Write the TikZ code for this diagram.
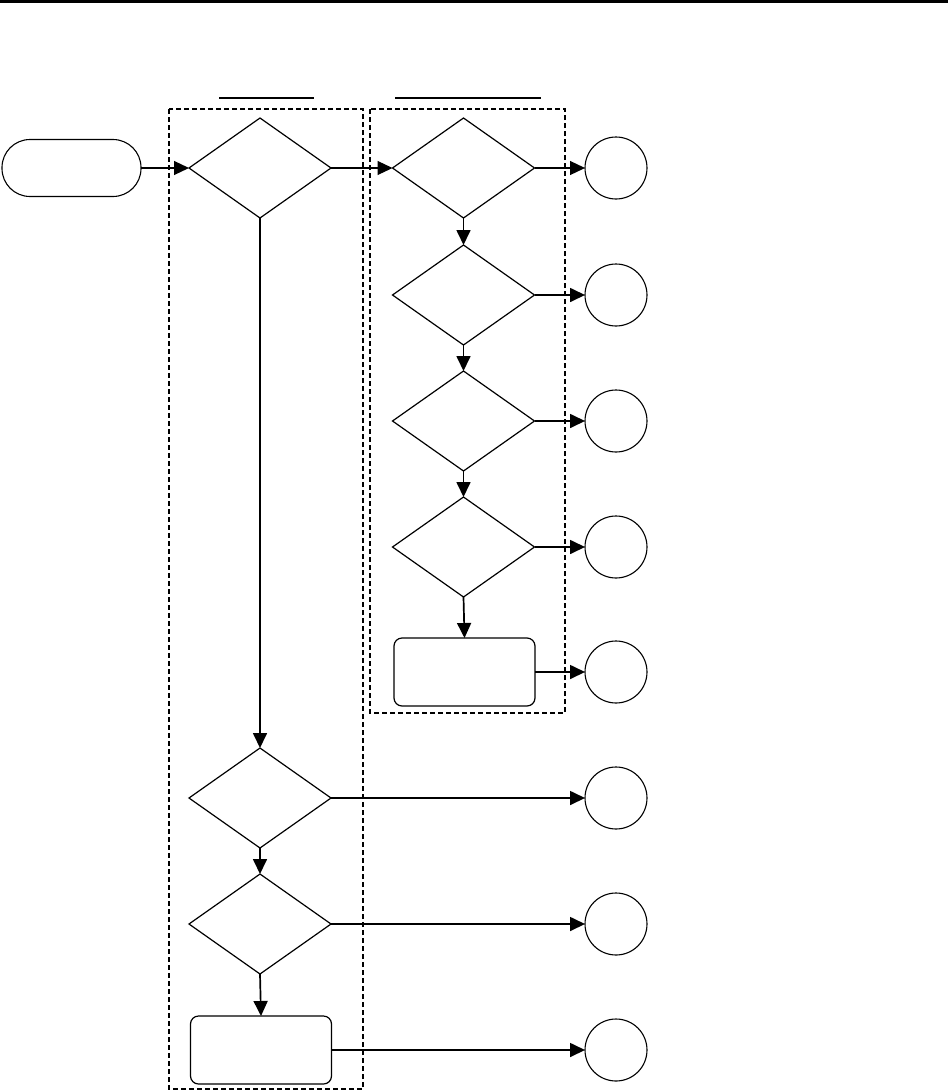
\documentclass[tikz,border=0pt]{standalone}
\usetikzlibrary{shapes.geometric,arrows.meta}
\begin{document}
\begin{tikzpicture}[x=1pt,y=-1pt,
  every node/.style={inner sep=0pt,outer sep=0pt},
  dec/.style={draw,line width=1.2pt,shape=diamond,minimum width=142pt,minimum height=100pt},
  term/.style={draw,line width=1.1pt,rectangle,rounded corners=28pt,minimum width=139pt,minimum height=57pt},
  proc/.style={draw,line width=1.2pt,rectangle,rounded corners=8pt,minimum width=141pt,minimum height=68pt},
  endc/.style={draw,line width=1.1pt,circle,minimum size=62pt},
  flow/.style={line width=1.2pt,-{Triangle[length=15pt,width=14pt]}},
  flowb/.style={line width=1.7pt,-{Triangle[length=15pt,width=14pt]}},
  thinbox/.style={draw,line width=1.2pt,dash pattern=on 5pt off 3pt},
  thickbox/.style={draw,line width=2pt,dash pattern=on 5pt off 3pt},
  hdr/.style={line width=1.2pt}]
\useasboundingbox (0,0) rectangle (948,1092);
% top rule
\draw[line width=2.6pt] (0,1.3) -- (948,1.3);
% header underlines
\draw[hdr] (219,98) -- (314,98);
\draw[hdr] (395,98) -- (541,98);
% dashed groups
\draw[thinbox] (169,109) rectangle (363,1089);
\draw[thickbox] (370,109) rectangle (565,713);
% nodes
\node[term] (start) at (71.5,168) {};
\node[dec] (d1) at (260,168) {};
\node[dec] (d2) at (463.5,168) {};
\node[dec] (d3) at (463.5,295) {};
\node[dec] (d4) at (463.5,421) {};
\node[dec] (d5) at (463.5,547) {};
\node[proc] (r1) at (464.5,672) {};
\node[dec] (d6) at (260,798) {};
\node[dec] (d7) at (260,924) {};
\node[proc] (r2) at (261,1050) {};
\node[endc] (c1) at (616,168) {};
\node[endc] (c2) at (616,295) {};
\node[endc] (c3) at (616,421) {};
\node[endc] (c4) at (616,547) {};
\node[endc] (c5) at (616,672) {};
\node[endc] (c6) at (616,798) {};
\node[endc] (c7) at (616,924) {};
\node[endc] (c8) at (616,1050) {};
% connectors
\draw[flow] (start.east) -- (d1.west);
\draw[flow] (d1.east) -- (d2.west);
\draw[flow] (d2.east) -- (c1.west);
\draw[flowb] (d2.south) -- (d3.north);
\draw[flowb] (d3.east) -- (c2.west);
\draw[flowb] (d3.south) -- (d4.north);
\draw[flowb] (d4.east) -- (c3.west);
\draw[flowb] (d4.south) -- (d5.north);
\draw[flowb] (d5.east) -- (c4.west);
\draw[flowb] (d5.south) -- (r1.north);
\draw[flowb] (r1.east) -- (c5.west);
\draw[flowb] (d1.south) -- (d6.north);
\draw[flowb] (d6.east) -- (c6.west);
\draw[flowb] (d6.south) -- (d7.north);
\draw[flowb] (d7.east) -- (c7.west);
\draw[flowb] (d7.south) -- (r2.north);
\draw[flowb] (r2.east) -- (c8.west);
\end{tikzpicture}
\end{document}
